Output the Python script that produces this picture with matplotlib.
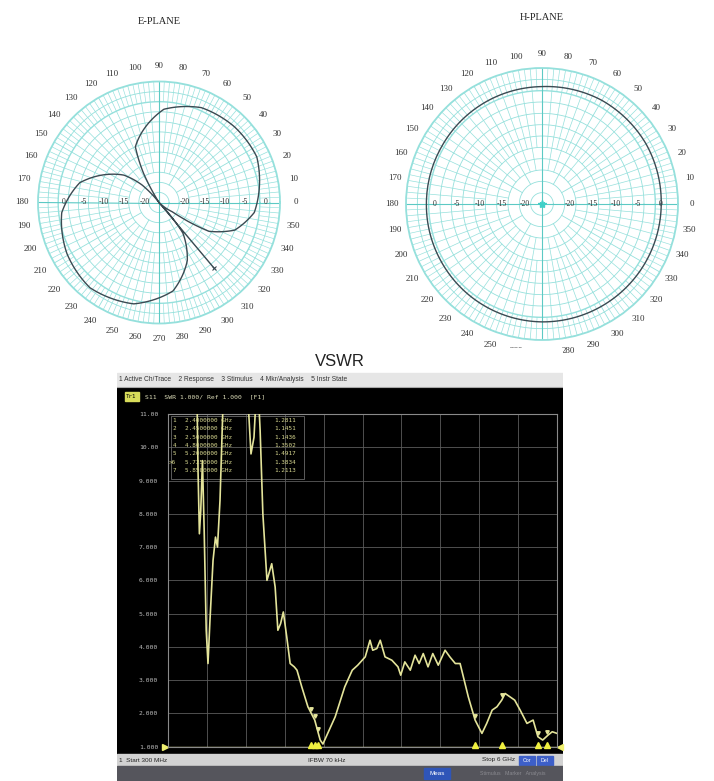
import numpy as np
import matplotlib.pyplot as plt
from matplotlib.patches import Rectangle

W, H = 714, 781

# ---- E-plane pattern (deg, dB) in drawing order
e_ang = [128, 134, 142, 150, 166, 186, 209, 231, 256, 279, 296, 308, 314,
         318, 325, 327, 330, 340, 354, 369, 385, 405, 426, 447, 473, 478, 482,
         485, 310, 310]
e_db = [-25, -19, -14, -11, -4.75, -0.75, 1.1, 2.2, 0.9, -2.8, -9, -15.4, -25,
        -24, -21, -16.4, -10.75, -5, -1.25, 0.2, 1.75, 1.5, 0.75, -1.85, -10, -17, -25,
        -25, -25, -3.75]

# ---- H-plane pattern (deg, dB)
h_ang = [0, 30, 60, 90, 120, 150, 180, 210, 240, 270, 300, 330, 360]
h_db = [1.3, 1.5, 1.4, 0.9, 0.7, 0.5, 0.5, 0.6, 0.8, 1.0, 1.1, 1.2, 1.3]

db_rings = [0, -5, -10, -15, -20]

# ---- VSWR trace (GHz, VSWR)
freq = [0.30, 0.50, 0.70, 0.725, 0.74, 0.76, 0.78, 0.805, 0.83, 0.86, 0.886, 0.915,
        0.96, 0.996, 1.025, 1.062, 1.106, 1.28, 1.47, 1.516, 1.56, 1.59, 1.62, 1.65,
        1.69, 1.75, 1.82, 1.87, 1.91, 1.95, 1.99, 2.04, 2.09, 2.15, 2.19, 2.26, 2.35,
        2.45, 2.53, 2.57, 2.64, 2.75, 2.89, 3.0, 3.08, 3.19, 3.26, 3.30, 3.36, 3.41,
        3.48, 3.58, 3.67, 3.71, 3.77, 3.85, 3.92, 3.98, 4.04, 4.11, 4.18, 4.26, 4.36,
        4.43, 4.51, 4.58, 4.64, 4.70, 4.80, 4.90, 4.97, 5.05, 5.12, 5.19, 5.24, 5.31,
        5.38, 5.46, 5.56, 5.65, 5.72, 5.79, 5.87, 5.93, 6.00]
vswr = [14, 14, 13, 11.5, 9.3, 7.4, 8.1, 9.6, 7.5, 4.5, 3.5, 4.8,
        6.6, 7.3, 7.0, 8.4, 11.3, 12.5, 11.5, 9.8, 10.3, 11.5, 11.8, 10.5,
        8.0, 6.0, 6.5, 5.8, 4.5, 4.7, 5.05, 4.3, 3.5, 3.4, 3.3, 2.8, 2.2,
        1.8, 1.2, 1.08, 1.4, 1.9, 2.8, 3.3, 3.45, 3.7, 4.2, 3.9, 3.95, 4.2,
        3.7, 3.6, 3.4, 3.15, 3.55, 3.3, 3.75, 3.5, 3.8, 3.4, 3.8, 3.45, 3.9,
        3.7, 3.5, 3.5, 3.0, 2.5, 1.8, 1.4, 1.7, 2.1, 2.2, 2.4, 2.6, 2.5,
        2.4, 2.1, 1.7, 1.8, 1.3, 1.2, 1.35, 1.45, 1.4]

mk_id = ['1', '2', '3', '4', '5', '>6', '7']
mk_freq = [2.40, 2.45, 2.50, 4.80, 5.20, 5.725, 5.85]
mk_val = [1.2811, 1.1451, 1.1436, 1.3502, 1.4917, 1.3834, 1.2113]

y_ticks = [11, 10, 9, 8, 7, 6, 5, 4, 3, 2, 1]
y_tick_labels = ['11.00', '10.00', '9.000', '8.000', '7.000', '6.000',
                 '5.000', '4.000', '3.000', '2.000', '1.000']

cyan = '#95e0dc'
cyan_dk = '#5cc9c4'
trace_col = '#e4e49a'

fig = plt.figure(figsize=(W / 100, H / 100), dpi=100)
fig.patch.set_facecolor('white')


def px_axes(x, y, w, h, **kw):
    return fig.add_axes([x / W, 1 - (y + h) / H, w / W, h / H], **kw)


def polar_panel(cx, cy, rad_px, title, ty, ang, db, lab_frac):
    ax = px_axes(cx - rad_px, cy - rad_px, 2 * rad_px, 2 * rad_px, projection='polar')
    ax.set_ylim(-25, 5)
    ax.set_xticks([])
    ax.set_yticks([])
    ax.grid(False)
    ax.spines['polar'].set_color(cyan)
    ax.spines['polar'].set_linewidth(1.3)
    th = np.linspace(0, 2 * np.pi, 721)
    for r in np.arange(-22.5, 5.01, 2.5):
        ax.plot(th, np.full_like(th, r), color=cyan, lw=0.6 if r != 0 else 1.0)
    for a in np.arange(0, 360, 5):
        if a % 90 == 0:
            r0, c, lw = -25, cyan_dk, 0.8
        elif a % 30 == 0:
            r0, c, lw = -20, cyan, 0.6
        elif a % 10 == 0:
            r0, c, lw = -17.5, cyan, 0.5
        else:
            r0, c, lw = -12.5, cyan, 0.5
        ax.plot([np.radians(a)] * 2, [r0, 5], color=c, lw=lw)
    for a in np.arange(2.5, 360, 5):
        ax.plot([np.radians(a)] * 2, [0, 5], color=cyan, lw=0.45)
    for lev in db_rings:
        for side in (0, np.pi):
            ax.annotate(str(lev), (side, lev), xytext=(4, 0), textcoords='offset points',
                        ha='center', va='center', fontsize=5.5, family='Liberation Serif',
                        color='#333333')
    lab_r = -25 + 30 * lab_frac
    for a in range(0, 360, 10):
        ax.text(np.radians(a), lab_r, str(a), ha='center', va='center', fontsize=6.5,
                family='Liberation Serif', color='#333333', clip_on=False)
    line, = ax.plot(np.radians(ang), db, color='#3b4a52', lw=1.0, zorder=5, clip_on=False)
    # let the polar transform draw arcs between the points
    line.recache(always=True)
    line.get_path()._interpolation_steps = 40
    fig.text(cx / W, 1 - ty / H, title, ha='center', va='center', fontsize=7.5,
             family='Liberation Serif', color='#222222')
    return ax


ax_e = polar_panel(159, 202.5, 121, 'E-PLANE', 22, e_ang, e_db, 1.13)
ax_e.plot(np.radians([310]), [-3.75], marker='x', color='#3b4a52', ms=3, mew=0.8)
ax_h = polar_panel(542, 204, 136, 'H-PLANE', 18, h_ang, h_db, 1.10)
ax_h.plot([0], [-25], marker='*', color='#40d0c8', ms=6)

# ---- VSWR screenshot
bg = px_axes(117, 348, 446, 433)
bg.set_xlim(117, 563)
bg.set_ylim(781, 348)
bg.axis('off')
bg.add_patch(Rectangle((117, 348), 446, 433, color='white'))
bg.text(340, 362, 'VSWR', ha='center', va='center', fontsize=12,
        family='Liberation Sans', color='#222222')
bg.add_patch(Rectangle((117, 373), 446, 14, color='#e6e6e6'))
bg.plot([117, 563], [387, 387], color='#a8a8a8', lw=0.8)
bg.text(119, 380, '1 Active Ch/Trace    2 Response    3 Stimulus    4 Mkr/Analysis    5 Instr State',
        ha='left', va='center', fontsize=4.8, family='Liberation Sans', color='#333333')
bg.add_patch(Rectangle((117, 388), 446, 366, color='black'))
bg.add_patch(Rectangle((125, 392), 14, 9, color='#d8dc5a'))
bg.text(126, 396.5, 'Tr1', ha='left', va='center', fontsize=4.2, family='DejaVu Sans Mono',
        color='black')
bg.text(145, 396.5, 'S11  SWR 1.000/ Ref 1.000  [F1]', ha='left', va='center', fontsize=4.6,
        family='DejaVu Sans Mono', color='#dcdcb8')
bg.add_patch(Rectangle((117, 754), 446, 12, color='#d2d2d2'))
bg.text(119, 760, '1  Start 300 MHz', ha='left', va='center', fontsize=4.6,
        family='Liberation Sans', color='#222222')
bg.text(327, 760, 'IFBW 70 kHz', ha='center', va='center', fontsize=4.6,
        family='Liberation Sans', color='#222222')
bg.text(515, 760, 'Stop 6 GHz', ha='right', va='center', fontsize=4.6,
        family='Liberation Sans', color='#222222')
for bx, bt in [(519, 'Cor'), (537, 'Del')]:
    bg.add_patch(Rectangle((bx, 755.5), 16, 9, color='#3d5fc8'))
    bg.text(bx + 8, 760, bt, ha='center', va='center', fontsize=3.8,
            family='Liberation Sans', color='white')
bg.add_patch(Rectangle((117, 766), 446, 15, color='#55555c'))
bg.add_patch(Rectangle((424, 768), 26, 11, color='#2f55b8'))
bg.text(437, 773.5, 'Meas', ha='center', va='center', fontsize=4.5,
        family='Liberation Sans', color='white')
bg.text(480, 773.5, 'Stimulus   Marker   Analysis', ha='left', va='center', fontsize=3.8,
        family='Liberation Sans', color='#8a8a90')

# plot area
ax = px_axes(168, 414, 389, 332.7)
ax.set_facecolor('black')
ax.set_xlim(0.3, 6.0)
ax.set_ylim(1, 11)
ax.set_xticks(np.linspace(0.3, 6.0, 11))
ax.set_yticks(y_ticks)
ax.set_yticklabels(y_tick_labels)
ax.set_xticklabels([])
ax.tick_params(length=0, labelsize=4.6, labelcolor='#bdbdbd', pad=7)
for lab in ax.get_yticklabels():
    lab.set_family('DejaVu Sans Mono')
ax.grid(True, color='#5c5c5c', lw=0.6)
for s in ax.spines.values():
    s.set_color('#8a8a8a')
    s.set_linewidth(0.8)
ax.axhline(1.0, color='#d8d890', lw=1.0)
ax.plot(freq, vswr, color=trace_col, lw=1.2, zorder=4)
mk_on = np.interp(mk_freq, freq, vswr)
ax.plot(mk_freq, mk_on + 0.12, 'v', color=trace_col, ms=2.5, zorder=5)
ax.plot(mk_freq, [1.05] * len(mk_freq), '^', color='#f0f040', ms=4, zorder=5, clip_on=False)
ax.plot([0.26], [1.0], '>', color='#f0f070', ms=5, clip_on=False)
ax.plot([6.04], [1.0], '<', color='#f0f070', ms=5, clip_on=False)
ax.add_patch(Rectangle((0.34, 9.05), 1.95, 1.9, fill=False, ec='#6a6a6a', lw=0.6, zorder=3))
for i, (mid, mf, mv) in enumerate(zip(mk_id, mk_freq, mk_val)):
    yv = 10.8 - i * 0.25
    ax.text(0.42, yv, mid, ha='right', va='center', fontsize=4.3,
            family='DejaVu Sans Mono', color='#d8d890', zorder=6)
    ax.text(0.55, yv, '%.7f GHz' % mf, ha='left', va='center', fontsize=4.3,
            family='DejaVu Sans Mono', color='#d8d890', zorder=6)
    ax.text(1.85, yv, '%.4f' % mv, ha='left', va='center', fontsize=4.3,
            family='DejaVu Sans Mono', color='#d8d890', zorder=6)

fig.savefig('out.png', dpi=100, facecolor='white')
